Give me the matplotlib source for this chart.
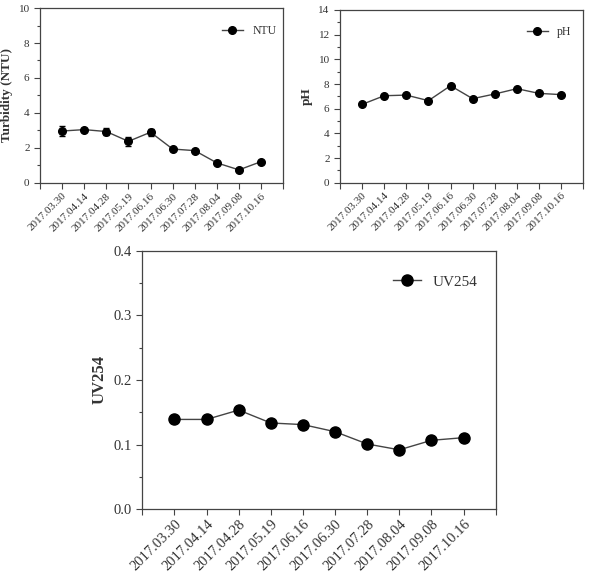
import numpy as np
import matplotlib.pyplot as plt
from matplotlib.ticker import MultipleLocator

plt.rcParams['font.family'] = ['Liberation Serif', 'DejaVu Serif']

dates = ['2017.03.30', '2017.04.14', '2017.04.28', '2017.05.19', '2017.06.16',
         '2017.06.30', '2017.07.28', '2017.08.04', '2017.09.08', '2017.10.16']

ntu = [2.97, 3.05, 2.94, 2.38, 2.9, 1.94, 1.85, 1.15, 0.75, 1.22]
ntu_err = [0.3, 0.1, 0.2, 0.25, 0.2, 0.06, 0.06, 0.06, 0.06, 0.06]

ph = [6.35, 7.05, 7.1, 6.65, 7.86, 6.81, 7.19, 7.62, 7.24, 7.14]
ph_err = [0.05] * 10

uv = [0.139, 0.139, 0.1535, 0.1335, 0.131, 0.12, 0.101, 0.092, 0.1067, 0.1108]
uv_err = [0.002, 0.002, 0.007, 0.002, 0.002, 0.002, 0.002, 0.002, 0.002, 0.002]

text_col = '#333333'
line_col = '#444444'


def panel(ax, y, err, label, ylabel, ymax, major, minor, fs, lfs, ms, legend_pos):
    x = np.arange(len(dates))
    ax.errorbar(x, y, yerr=err, fmt='none', ecolor='black', elinewidth=0.8, capsize=2)
    ax.plot(x, y, color=line_col, lw=1, marker='o', ms=ms,
            mfc='black', mec='black', label=label)
    ax.set_xlim(-1, 10)
    ax.set_ylim(0, ymax)
    ax.set_xticks(np.arange(-1, 11))
    ax.set_xticklabels([''] + dates + [''], rotation=45, ha='right',
                       rotation_mode='anchor', fontsize=fs, color=text_col)
    ax.yaxis.set_major_locator(MultipleLocator(major))
    ax.yaxis.set_minor_locator(MultipleLocator(minor))
    ax.tick_params(direction='out', colors=line_col, labelcolor=text_col,
                   labelsize=fs, length=4, width=0.8)
    ax.tick_params(which='minor', direction='out', colors=line_col, length=2.5, width=0.8)
    ax.tick_params(axis='x', pad=2)
    for s in ax.spines.values():
        s.set_color(line_col)
        s.set_linewidth(0.9)
    ax.set_ylabel(ylabel, fontsize=lfs, fontweight='bold', color=text_col)
    ax.legend(loc='center', bbox_to_anchor=legend_pos, frameon=False,
              fontsize=fs + 0.5, handlelength=1.8, labelcolor=text_col)


fig = plt.figure(figsize=(5.93, 5.8), dpi=100)

ax1 = fig.add_axes([0.0675, 0.6845, 0.41, 0.3017])
panel(ax1, ntu, ntu_err, 'NTU', 'Turbidity (NTU)', 10, 2, 1, 8, 9.5, 5.5, (0.86, 0.87))

ax2 = fig.add_axes([0.5734, 0.685, 0.41, 0.2978])
panel(ax2, ph, ph_err, 'pH', 'pH', 14, 2, 1, 8, 9.5, 5.5, (0.86, 0.87))

ax3 = fig.add_axes([0.24, 0.1219, 0.596, 0.4459])
panel(ax3, uv, uv_err, 'UV254', 'UV254', 0.4, 0.1, 0.05, 10.5, 12, 8, (0.83, 0.88))
ax3.yaxis.set_major_formatter(plt.FormatStrFormatter('%.1f'))

fig.savefig('out.png', dpi=100)
